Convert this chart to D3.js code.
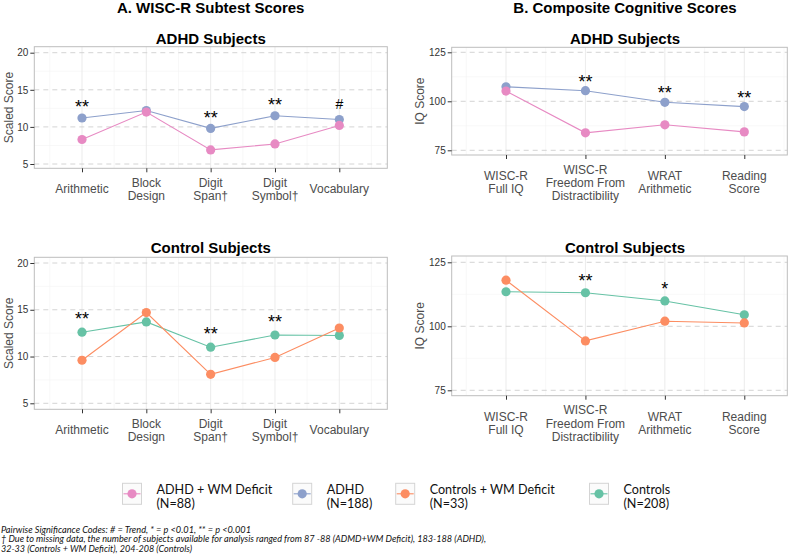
<!DOCTYPE html>
<html>
<head>
<meta charset="utf-8">
<script src="https://cdn.jsdelivr.net/npm/d3@7"></script>
<style>
  body { margin: 0; background: #fff; }
  svg { display: block; }
</style>
</head>
<body>
<svg width="800" height="557"></svg>
<script>
// categories
var subtestCats = ['Arithmetic', 'Block\nDesign', 'Digit\nSpan†', 'Digit\nSymbol†', 'Vocabulary'];
var compositeCats = ['WISC-R\nFull IQ', 'WISC-R\nFreedom From\nDistractibility', 'WRAT\nArithmetic', 'Reading\nScore'];

// series values
var subtestADHD = [11.2, 12.2, 9.8, 11.5, 11.0];
var subtestADHDWM = [8.3, 12.0, 6.9, 7.7, 10.2];
var subtestControls = [12.6, 13.7, 11.0, 12.3, 12.25];
var subtestControlsWM = [9.6, 14.7, 8.1, 9.9, 13.05];

var compositeADHD = [107.4, 105.4, 99.5, 97.3];
var compositeADHDWM = [105.2, 83.9, 88.0, 84.4];
var compositeControls = [113.5, 113.1, 109.9, 104.5];
var compositeControlsWM = [118.0, 94.3, 102.0, 101.3];

// significance codes
var sigSubtestADHD = ['**', '', '**', '**', '#'];
var sigSubtestControls = ['**', '', '**', '**', ''];
var sigCompositeADHD = ['', '**', '**', '**'];
var sigCompositeControls = ['', '**', '*', ''];

// ticks
var subtestTicks = [5, 10, 15, 20];
var subtestMinor = [7.5, 12.5, 17.5];
var compositeTicks = [75, 100, 125];
var compositeMinor = [87.5, 112.5];

// legend
var seriesNames = ['ADHD + WM Deficit', 'ADHD', 'Controls + WM Deficit', 'Controls'];
var seriesN = ['(N=88)', '(N=188)', '(N=33)', '(N=208)'];
var seriesColors = ['#e78ac3', '#8da0cb', '#fc8d62', '#66c2a5'];

var footnotes = [
  'Pairwise Significance Codes: # = Trend,  * = p <0.01, ** = p <0.001',
  '† Due to missing data, the number of subjects available for analysis ranged from 87 -88 (ADMD+WM Deficit), 183-188 (ADHD),',
  '32-33 (Controls + WM Deficit), 204-208 (Controls)'
];

var svg = d3.select('svg');
var sans = 'Liberation Sans, Arial, sans-serif';
var legendFont = 'Lato, Open Sans, sans-serif';

// column titles
svg.append('text').attr('x', 210.7).attr('y', 12.5).attr('text-anchor', 'middle')
  .style('font', 'bold 15px ' + sans).text('A. WISC-R Subtest Scores');
svg.append('text').attr('x', 625).attr('y', 12.5).attr('text-anchor', 'middle')
  .style('font', 'bold 15px ' + sans).text('B. Composite Cognitive Scores');

var panels = [
  { title: 'ADHD Subjects', cats: subtestCats, series: [[subtestADHD, 1], [subtestADHDWM, 0]],
    sig: sigSubtestADHD, ticks: subtestTicks, minor: subtestMinor, domain: [5, 20], range: [164, 52.7],
    box: [34.3, 46.7, 387.3, 168.3], xr: [82, 339.3], titleX: 210.8, titleY: 44,
    yTitle: 'Scaled Score', yTitleX: 13.3, offset: 2.05 },
  { title: 'Control Subjects', cats: subtestCats, series: [[subtestControls, 3], [subtestControlsWM, 2]],
    sig: sigSubtestControls, ticks: subtestTicks, minor: subtestMinor, domain: [5, 20], range: [403.3, 263],
    box: [34.3, 257.3, 387.3, 409.3], xr: [82, 339.3], titleX: 210.8, titleY: 252.5,
    yTitle: 'Scaled Score', yTitleX: 13.3, offset: 1.9 },
  { title: 'ADHD Subjects', cats: compositeCats, series: [[compositeADHD, 1], [compositeADHDWM, 0]],
    sig: sigCompositeADHD, ticks: compositeTicks, minor: compositeMinor, domain: [75, 125], range: [150.3, 52.3],
    box: [451.7, 47.3, 787.3, 155], xr: [506, 744.3], titleX: 625, titleY: 44,
    yTitle: 'IQ Score', yTitleX: 424, offset: 6.9 },
  { title: 'Control Subjects', cats: compositeCats, series: [[compositeControls, 3], [compositeControlsWM, 2]],
    sig: sigCompositeControls, ticks: compositeTicks, minor: compositeMinor, domain: [75, 125], range: [390.3, 262.3],
    box: [451.7, 256, 787.3, 395.7], xr: [506, 744.3], titleX: 625, titleY: 252.5,
    yTitle: 'IQ Score', yTitleX: 424, offset: 6.3 }
];

panels.forEach(function(p) {
  var g = svg.append('g');
  var x = d3.scalePoint().domain(p.cats).range(p.xr);
  var y = d3.scaleLinear().domain(p.domain).range(p.range);
  var step = x.step();
  var bx0 = p.box[0], by0 = p.box[1], bx1 = p.box[2], by1 = p.box[3];

  g.append('rect').attr('x', bx0).attr('y', by0).attr('width', bx1 - bx0).attr('height', by1 - by0)
    .attr('fill', '#fff');

  // minor vertical grid
  var minorX = d3.range(-0.5, p.cats.length, 1).map(function(i) { return p.xr[0] + i * step; });
  g.selectAll('.vminor').data(minorX).enter().append('line')
    .attr('x1', function(d) { return d; }).attr('x2', function(d) { return d; })
    .attr('y1', by0).attr('y2', by1).attr('stroke', '#f3f3f3').attr('stroke-width', 0.6);
  // minor horizontal grid
  g.selectAll('.hminor').data(p.minor).enter().append('line')
    .attr('x1', bx0).attr('x2', bx1)
    .attr('y1', function(d) { return y(d); }).attr('y2', function(d) { return y(d); })
    .attr('stroke', '#f3f3f3').attr('stroke-width', 0.6);
  // major vertical grid
  g.selectAll('.vmajor').data(p.cats).enter().append('line')
    .attr('x1', function(d) { return x(d); }).attr('x2', function(d) { return x(d); })
    .attr('y1', by0).attr('y2', by1).attr('stroke', '#e6e6e6').attr('stroke-width', 0.8);
  // major horizontal grid, dashed
  g.selectAll('.hmajor').data(p.ticks).enter().append('line')
    .attr('x1', bx0).attr('x2', bx1)
    .attr('y1', function(d) { return y(d); }).attr('y2', function(d) { return y(d); })
    .attr('stroke', '#cfcfcf').attr('stroke-width', 0.9).attr('stroke-dasharray', '5,4');

  g.append('rect').attr('x', bx0).attr('y', by0).attr('width', bx1 - bx0).attr('height', by1 - by0)
    .attr('fill', 'none').attr('stroke', '#bdbdbd').attr('stroke-width', 1);

  // y axis
  var yAxis = d3.axisLeft(y).tickValues(p.ticks).tickSize(4).tickPadding(2);
  var ya = g.append('g').attr('transform', 'translate(' + bx0 + ',0)').call(yAxis);
  ya.select('.domain').remove();
  ya.selectAll('line').attr('stroke', '#333');
  ya.selectAll('text').style('font', '10px ' + sans).attr('fill', '#333');

  // x axis
  var xAxis = d3.axisBottom(x).tickSize(4).tickFormat('');
  var xa = g.append('g').attr('transform', 'translate(0,' + by1 + ')').call(xAxis);
  xa.select('.domain').remove();
  xa.selectAll('line').attr('stroke', '#333');

  var maxLines = d3.max(p.cats, function(c) { return c.split('\n').length; });
  var lh = 13.3;
  var firstBase = by1 + 18.5;
  p.cats.forEach(function(c) {
    var lines = c.split('\n');
    var start = firstBase + (maxLines - lines.length) * lh / 2;
    var t = g.append('text').attr('text-anchor', 'middle')
      .style('font', '12px ' + sans).attr('fill', '#4d4d4d');
    lines.forEach(function(l, i) {
      t.append('tspan').attr('x', x(c)).attr('y', start + i * lh).text(l);
    });
  });

  // axis title
  g.append('text')
    .attr('transform', 'translate(' + p.yTitleX + ',' + ((by0 + by1) / 2) + ') rotate(-90)')
    .attr('text-anchor', 'middle').style('font', '12px ' + sans).attr('fill', '#4d4d4d')
    .text(p.yTitle);

  // panel title
  g.append('text').attr('x', p.titleX).attr('y', p.titleY).attr('text-anchor', 'middle')
    .style('font', 'bold 15px ' + sans).text(p.title);

  // lines and points
  var line = d3.line()
    .x(function(d, i) { return x(p.cats[i]); })
    .y(function(d) { return y(d); });

  p.series.forEach(function(s) {
    var vals = s[0], col = seriesColors[s[1]];
    g.append('path').datum(vals).attr('d', line)
      .attr('fill', 'none').attr('stroke', col).attr('stroke-width', 1.1);
  });
  p.series.forEach(function(s) {
    var vals = s[0], col = seriesColors[s[1]];
    g.selectAll(null).data(vals).enter().append('circle')
      .attr('cx', function(d, i) { return x(p.cats[i]); })
      .attr('cy', function(d) { return y(d); })
      .attr('r', 4.6).attr('fill', col);
  });

  // significance labels
  p.sig.forEach(function(s, i) {
    if (!s) return;
    var top = d3.max(p.series, function(se) { return se[0][i]; });
    var cy = y(top + p.offset);
    var isStar = s.charAt(0) === '*';
    g.append('text').attr('x', x(p.cats[i])).attr('y', isStar ? cy + 10.5 : cy + 5)
      .attr('text-anchor', 'middle')
      .style('font', (isStar ? '18px ' : '14px ') + sans)
      .text(s);
  });
});

// legend
var legendX = [122.5, 292.7, 395.7, 589.5];
var lg = svg.append('g');
seriesNames.forEach(function(name, i) {
  var lx = legendX[i], ly = 483.3;
  lg.append('rect').attr('x', lx).attr('y', ly).attr('width', 19).attr('height', 21)
    .attr('fill', '#fbfbfb').attr('stroke', '#d4d4d4').attr('stroke-width', 1);
  lg.append('line').attr('x1', lx + 1).attr('x2', lx + 18).attr('y1', ly + 10.5).attr('y2', ly + 10.5)
    .attr('stroke', seriesColors[i]).attr('stroke-width', 1.1);
  lg.append('circle').attr('cx', lx + 9.5).attr('cy', ly + 10.5).attr('r', 4.6).attr('fill', seriesColors[i]);
  lg.append('text').attr('x', lx + 34).attr('y', 493.5)
    .style('font', '12.6px ' + legendFont).attr('fill', '#111').text(name);
  lg.append('text').attr('x', lx + 34).attr('y', 508)
    .style('font', '12.6px ' + legendFont).attr('fill', '#111').text(seriesN[i]);
});

// footnotes
var footWidths = [250, 485, 191];
var footY = [532.5, 542, 551.5];
footnotes.forEach(function(f, i) {
  svg.append('text').attr('x', 1).attr('y', footY[i])
    .style('font', 'italic 9px ' + legendFont).attr('fill', '#111')
    .attr('textLength', footWidths[i]).attr('lengthAdjust', 'spacingAndGlyphs')
    .text(f);
});
</script>
</body>
</html>
